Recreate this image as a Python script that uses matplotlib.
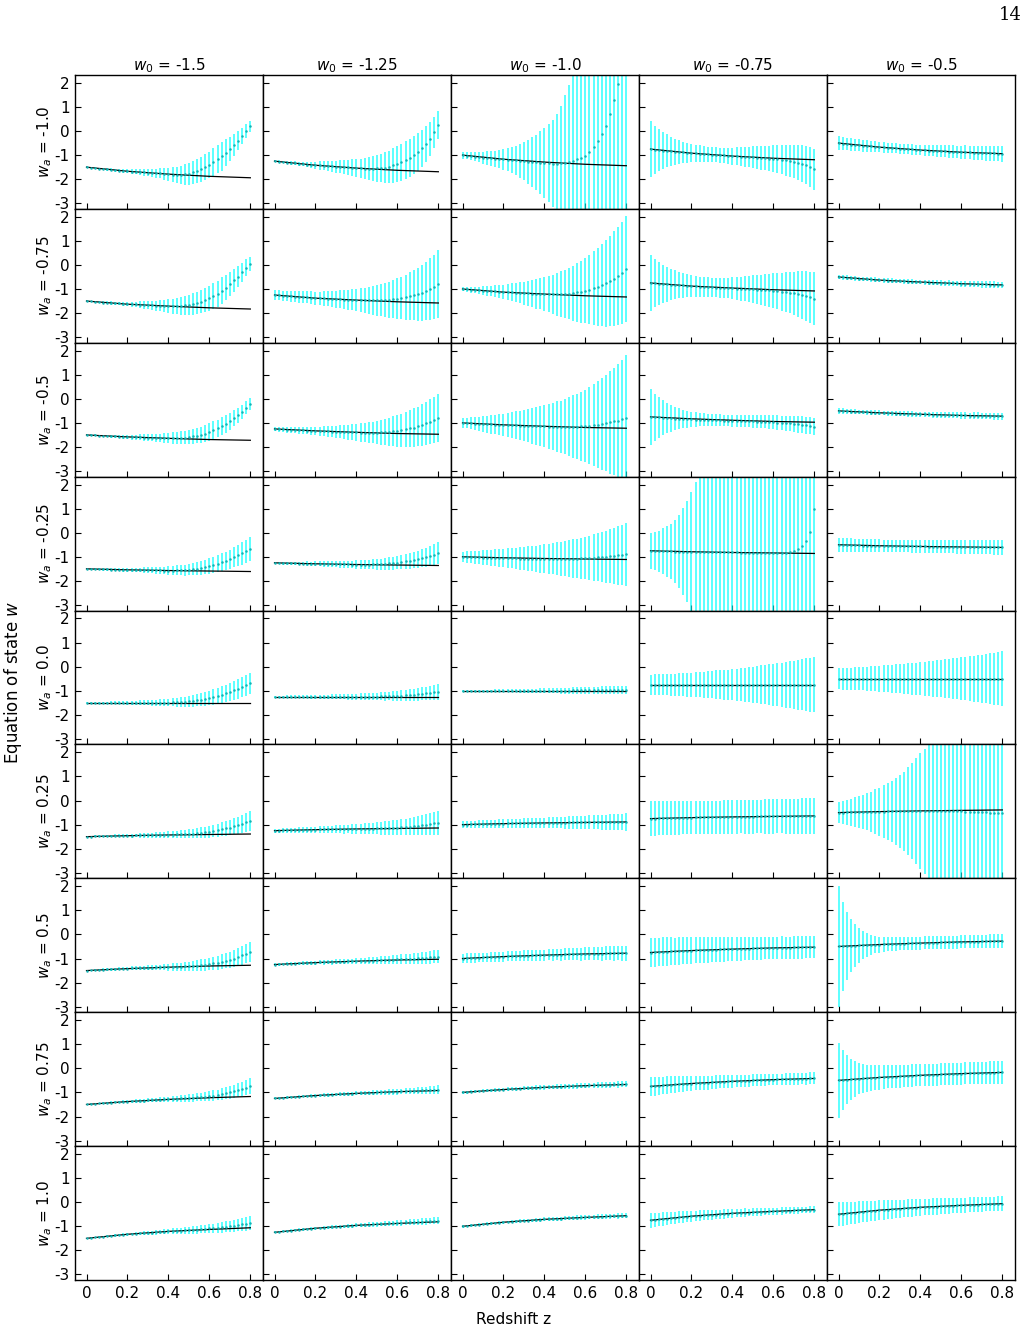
import matplotlib
matplotlib.use("Agg")
import matplotlib.pyplot as plt

plt.rcParams["axes.unicode_minus"] = False

w0_values = [-1.5, -1.25, -1.0, -0.75, -0.5]
wa_values = [-1.0, -0.75, -0.5, -0.25, 0.0, 0.25, 0.5, 0.75, 1.0]

x_ticks = [0, 0.2, 0.4, 0.6, 0.8]
x_tick_labels = ["0", "0.2", "0.4", "0.6", "0.8"]
y_ticks = [-3, -2, -1, 0, 1, 2]

# redshift of the reconstructed points
z = [0.00, 0.02, 0.04, 0.06, 0.08, 0.10, 0.12, 0.14, 0.16, 0.18, 0.20,
     0.22, 0.24, 0.26, 0.28, 0.30, 0.32, 0.34, 0.36, 0.38, 0.40,
     0.42, 0.44, 0.46, 0.48, 0.50, 0.52, 0.54, 0.56, 0.58, 0.60,
     0.62, 0.64, 0.66, 0.68, 0.70, 0.72, 0.74, 0.76, 0.78, 0.80]

# fiducial w(z) (black line)
z_model = [0.0, 0.2, 0.4, 0.6, 0.8]
model_r0 = [[-1.5, -1.67, -1.79, -1.88, -1.94], [-1.25, -1.42, -1.54, -1.63, -1.69],
            [-1.0, -1.17, -1.29, -1.38, -1.44], [-0.75, -0.92, -1.04, -1.13, -1.19],
            [-0.5, -0.67, -0.79, -0.88, -0.94]]
model_r1 = [[-1.5, -1.63, -1.71, -1.78, -1.83], [-1.25, -1.38, -1.46, -1.53, -1.58],
            [-1.0, -1.13, -1.21, -1.28, -1.33], [-0.75, -0.88, -0.96, -1.03, -1.08],
            [-0.5, -0.63, -0.71, -0.78, -0.83]]
model_r2 = [[-1.5, -1.58, -1.64, -1.69, -1.72], [-1.25, -1.33, -1.39, -1.44, -1.47],
            [-1.0, -1.08, -1.14, -1.19, -1.22], [-0.75, -0.83, -0.89, -0.94, -0.97],
            [-0.5, -0.58, -0.64, -0.69, -0.72]]
model_r3 = [[-1.5, -1.54, -1.57, -1.59, -1.61], [-1.25, -1.29, -1.32, -1.34, -1.36],
            [-1.0, -1.04, -1.07, -1.09, -1.11], [-0.75, -0.79, -0.82, -0.84, -0.86],
            [-0.5, -0.54, -0.57, -0.59, -0.61]]
model_r4 = [[-1.5, -1.5, -1.5, -1.5, -1.5], [-1.25, -1.25, -1.25, -1.25, -1.25],
            [-1.0, -1.0, -1.0, -1.0, -1.0], [-0.75, -0.75, -0.75, -0.75, -0.75],
            [-0.5, -0.5, -0.5, -0.5, -0.5]]
model_r5 = [[-1.5, -1.46, -1.43, -1.41, -1.39], [-1.25, -1.21, -1.18, -1.16, -1.14],
            [-1.0, -0.96, -0.93, -0.91, -0.89], [-0.75, -0.71, -0.68, -0.66, -0.64],
            [-0.5, -0.46, -0.43, -0.41, -0.39]]
model_r6 = [[-1.5, -1.42, -1.36, -1.31, -1.28], [-1.25, -1.17, -1.11, -1.06, -1.03],
            [-1.0, -0.92, -0.86, -0.81, -0.78], [-0.75, -0.67, -0.61, -0.56, -0.53],
            [-0.5, -0.42, -0.36, -0.31, -0.28]]
model_r7 = [[-1.5, -1.38, -1.29, -1.22, -1.17], [-1.25, -1.13, -1.04, -0.97, -0.92],
            [-1.0, -0.88, -0.79, -0.72, -0.67], [-0.75, -0.63, -0.54, -0.47, -0.42],
            [-0.5, -0.38, -0.29, -0.22, -0.17]]
model_r8 = [[-1.5, -1.33, -1.21, -1.13, -1.06], [-1.25, -1.08, -0.96, -0.88, -0.81],
            [-1.0, -0.83, -0.71, -0.63, -0.56], [-0.75, -0.58, -0.46, -0.38, -0.31],
            [-0.5, -0.33, -0.21, -0.13, -0.06]]

# reconstructed w(z) (cyan points) and their 1-sigma errors
mean_r0 = [
    [-1.50, -1.52, -1.54, -1.56, -1.57, -1.59, -1.61, -1.62, -1.64, -1.65, -1.67, -1.68, -1.69, -1.71, -1.72, -1.73, -1.74, -1.75, -1.76, -1.78, -1.79,
     -1.81, -1.82, -1.82, -1.80, -1.78, -1.72, -1.66, -1.58, -1.50, -1.40, -1.28, -1.17, -1.04, -0.90, -0.75, -0.58, -0.40, -0.20, 0.00, 0.20],
    [-1.25, -1.27, -1.29, -1.31, -1.32, -1.34, -1.36, -1.37, -1.39, -1.40, -1.42, -1.43, -1.44, -1.46, -1.47, -1.48, -1.49, -1.50, -1.51, -1.53, -1.54,
     -1.55, -1.56, -1.56, -1.56, -1.55, -1.54, -1.52, -1.48, -1.43, -1.37, -1.30, -1.22, -1.12, -1.00, -0.87, -0.72, -0.55, -0.32, -0.05, 0.25],
    [-1.00, -1.02, -1.04, -1.06, -1.08, -1.10, -1.12, -1.13, -1.15, -1.16, -1.18, -1.19, -1.21, -1.22, -1.24, -1.25, -1.27, -1.28, -1.30, -1.31, -1.32,
     -1.34, -1.35, -1.35, -1.34, -1.32, -1.29, -1.24, -1.18, -1.11, -1.02, -0.88, -0.68, -0.42, -0.12, 0.22, 0.72, 1.30, 1.95, 2.70, 3.50],
    [-0.75, -0.77, -0.79, -0.81, -0.82, -0.84, -0.86, -0.87, -0.89, -0.90, -0.92, -0.93, -0.94, -0.96, -0.97, -0.98, -0.99, -1.00, -1.01, -1.03, -1.04,
     -1.05, -1.06, -1.07, -1.08, -1.09, -1.10, -1.11, -1.12, -1.14, -1.15, -1.17, -1.19, -1.21, -1.24, -1.27, -1.31, -1.36, -1.42, -1.50, -1.58],
    [-0.50, -0.52, -0.54, -0.56, -0.57, -0.59, -0.61, -0.62, -0.64, -0.65, -0.67, -0.68, -0.69, -0.71, -0.72, -0.73, -0.74, -0.75, -0.76, -0.78, -0.79,
     -0.80, -0.81, -0.82, -0.82, -0.83, -0.84, -0.85, -0.86, -0.87, -0.88, -0.88, -0.89, -0.90, -0.90, -0.91, -0.92, -0.93, -0.93, -0.94, -0.94],
]
err_r0 = [
    [0.03, 0.03, 0.04, 0.04, 0.05, 0.05, 0.06, 0.06, 0.07, 0.08, 0.09, 0.10, 0.11, 0.12, 0.14, 0.15, 0.17, 0.19, 0.21, 0.24, 0.27,
     0.30, 0.34, 0.38, 0.42, 0.45, 0.48, 0.50, 0.52, 0.54, 0.55, 0.57, 0.59, 0.60, 0.56, 0.50, 0.45, 0.40, 0.34, 0.28, 0.22],
    [0.04, 0.05, 0.05, 0.06, 0.07, 0.08, 0.09, 0.10, 0.12, 0.13, 0.15, 0.17, 0.19, 0.21, 0.23, 0.25, 0.27, 0.30, 0.32, 0.35, 0.38,
     0.41, 0.44, 0.48, 0.51, 0.55, 0.59, 0.63, 0.67, 0.71, 0.75, 0.77, 0.79, 0.80, 0.80, 0.80, 0.78, 0.74, 0.70, 0.65, 0.60],
    [0.14, 0.16, 0.18, 0.20, 0.22, 0.25, 0.28, 0.31, 0.34, 0.38, 0.42, 0.48, 0.54, 0.61, 0.70, 0.80, 0.91, 1.03, 1.15, 1.30, 1.45,
     1.62, 1.80, 2.05, 2.40, 2.80, 3.20, 3.55, 3.90, 4.40, 5.00, 5.40, 5.80, 6.20, 6.60, 7.00, 7.40, 7.80, 8.20, 8.60, 9.00],
    [1.15, 1.00, 0.88, 0.77, 0.68, 0.60, 0.54, 0.49, 0.44, 0.41, 0.38, 0.36, 0.34, 0.33, 0.32, 0.31, 0.31, 0.31, 0.32, 0.33, 0.35,
     0.37, 0.39, 0.41, 0.43, 0.45, 0.47, 0.49, 0.51, 0.53, 0.55, 0.58, 0.61, 0.64, 0.67, 0.70, 0.73, 0.76, 0.79, 0.82, 0.85],
    [0.28, 0.27, 0.26, 0.26, 0.25, 0.24, 0.24, 0.23, 0.23, 0.22, 0.22, 0.22, 0.21, 0.21, 0.21, 0.21, 0.21, 0.21, 0.22, 0.22, 0.22,
     0.23, 0.23, 0.23, 0.24, 0.24, 0.25, 0.25, 0.26, 0.26, 0.27, 0.28, 0.28, 0.29, 0.29, 0.30, 0.31, 0.31, 0.32, 0.32, 0.33],
]

mean_r1 = [
    [-1.50, -1.51, -1.53, -1.54, -1.56, -1.57, -1.58, -1.59, -1.60, -1.61, -1.62, -1.63, -1.64, -1.65, -1.66, -1.67, -1.68, -1.69, -1.70, -1.70, -1.71,
     -1.71, -1.71, -1.70, -1.68, -1.66, -1.62, -1.58, -1.52, -1.46, -1.38, -1.29, -1.19, -1.07, -0.94, -0.80, -0.64, -0.48, -0.30, -0.12, 0.05],
    [-1.25, -1.26, -1.28, -1.29, -1.31, -1.32, -1.33, -1.34, -1.35, -1.36, -1.38, -1.39, -1.39, -1.40, -1.41, -1.42, -1.43, -1.44, -1.45, -1.45, -1.46,
     -1.46, -1.47, -1.47, -1.47, -1.47, -1.46, -1.45, -1.44, -1.42, -1.40, -1.37, -1.34, -1.30, -1.26, -1.21, -1.15, -1.08, -1.00, -0.91, -0.80],
    [-1.00, -1.01, -1.03, -1.04, -1.06, -1.07, -1.08, -1.09, -1.10, -1.11, -1.12, -1.13, -1.14, -1.15, -1.16, -1.17, -1.18, -1.19, -1.20, -1.20, -1.21,
     -1.21, -1.22, -1.22, -1.21, -1.20, -1.19, -1.17, -1.14, -1.11, -1.07, -1.02, -0.97, -0.91, -0.84, -0.76, -0.67, -0.57, -0.46, -0.33, -0.18],
    [-0.75, -0.76, -0.78, -0.79, -0.81, -0.82, -0.83, -0.84, -0.85, -0.87, -0.88, -0.89, -0.90, -0.91, -0.92, -0.93, -0.94, -0.95, -0.95, -0.96, -0.97,
     -0.98, -0.99, -0.99, -1.00, -1.01, -1.02, -1.03, -1.04, -1.05, -1.07, -1.09, -1.11, -1.13, -1.15, -1.18, -1.21, -1.25, -1.29, -1.34, -1.40],
    [-0.50, -0.51, -0.53, -0.54, -0.56, -0.57, -0.58, -0.59, -0.60, -0.61, -0.62, -0.64, -0.65, -0.65, -0.66, -0.67, -0.68, -0.69, -0.70, -0.71, -0.71,
     -0.72, -0.73, -0.74, -0.74, -0.75, -0.76, -0.76, -0.77, -0.77, -0.78, -0.79, -0.79, -0.80, -0.80, -0.81, -0.81, -0.82, -0.82, -0.83, -0.83],
]
err_r1 = [
    [0.03, 0.03, 0.04, 0.04, 0.05, 0.06, 0.07, 0.07, 0.08, 0.09, 0.10, 0.11, 0.12, 0.14, 0.15, 0.17, 0.19, 0.21, 0.23, 0.25, 0.28,
     0.31, 0.33, 0.36, 0.39, 0.42, 0.44, 0.46, 0.48, 0.50, 0.52, 0.53, 0.54, 0.55, 0.53, 0.50, 0.47, 0.43, 0.39, 0.35, 0.30],
    [0.20, 0.20, 0.21, 0.21, 0.22, 0.22, 0.23, 0.24, 0.25, 0.26, 0.27, 0.28, 0.30, 0.31, 0.33, 0.35, 0.37, 0.39, 0.42, 0.44, 0.47,
     0.50, 0.53, 0.56, 0.59, 0.63, 0.67, 0.71, 0.75, 0.79, 0.84, 0.89, 0.94, 0.99, 1.04, 1.10, 1.16, 1.22, 1.28, 1.34, 1.40],
    [0.08, 0.10, 0.12, 0.14, 0.16, 0.18, 0.20, 0.22, 0.25, 0.27, 0.30, 0.33, 0.37, 0.40, 0.44, 0.48, 0.52, 0.56, 0.61, 0.65, 0.70,
     0.76, 0.82, 0.88, 0.94, 1.00, 1.07, 1.14, 1.21, 1.28, 1.35, 1.44, 1.53, 1.62, 1.71, 1.80, 1.88, 1.96, 2.04, 2.12, 2.20],
    [1.15, 1.00, 0.90, 0.80, 0.72, 0.65, 0.60, 0.55, 0.51, 0.48, 0.45, 0.43, 0.42, 0.41, 0.40, 0.40, 0.40, 0.41, 0.42, 0.43, 0.45,
     0.47, 0.50, 0.52, 0.55, 0.58, 0.61, 0.63, 0.66, 0.69, 0.72, 0.75, 0.79, 0.83, 0.86, 0.90, 0.94, 0.98, 1.02, 1.06, 1.10],
    [0.10, 0.10, 0.10, 0.09, 0.09, 0.09, 0.09, 0.09, 0.09, 0.09, 0.09, 0.09, 0.09, 0.09, 0.09, 0.09, 0.10, 0.10, 0.10, 0.10, 0.10,
     0.10, 0.11, 0.11, 0.11, 0.11, 0.11, 0.12, 0.12, 0.12, 0.12, 0.12, 0.13, 0.13, 0.13, 0.13, 0.13, 0.14, 0.14, 0.14, 0.14],
]

mean_r2 = [
    [-1.50, -1.51, -1.52, -1.53, -1.54, -1.55, -1.55, -1.56, -1.57, -1.58, -1.58, -1.59, -1.60, -1.60, -1.61, -1.62, -1.62, -1.63, -1.63, -1.63, -1.63,
     -1.63, -1.63, -1.62, -1.61, -1.59, -1.56, -1.53, -1.49, -1.44, -1.38, -1.31, -1.23, -1.14, -1.04, -0.93, -0.81, -0.68, -0.54, -0.38, -0.20],
    [-1.25, -1.26, -1.27, -1.28, -1.29, -1.30, -1.30, -1.31, -1.32, -1.33, -1.33, -1.34, -1.35, -1.35, -1.36, -1.37, -1.37, -1.38, -1.38, -1.39, -1.39,
     -1.40, -1.40, -1.40, -1.40, -1.40, -1.39, -1.38, -1.37, -1.35, -1.33, -1.30, -1.27, -1.23, -1.19, -1.14, -1.08, -1.02, -0.95, -0.87, -0.78],
    [-1.00, -1.01, -1.02, -1.03, -1.04, -1.05, -1.05, -1.06, -1.07, -1.07, -1.08, -1.09, -1.10, -1.10, -1.11, -1.12, -1.12, -1.13, -1.13, -1.14, -1.14,
     -1.15, -1.15, -1.15, -1.16, -1.16, -1.16, -1.15, -1.15, -1.14, -1.13, -1.11, -1.09, -1.07, -1.04, -1.01, -0.98, -0.94, -0.90, -0.85, -0.80],
    [-0.75, -0.76, -0.77, -0.78, -0.80, -0.81, -0.82, -0.82, -0.83, -0.84, -0.85, -0.86, -0.86, -0.87, -0.87, -0.88, -0.89, -0.89, -0.90, -0.90, -0.91,
     -0.92, -0.92, -0.93, -0.93, -0.94, -0.95, -0.95, -0.96, -0.97, -0.98, -0.99, -1.00, -1.01, -1.02, -1.04, -1.06, -1.08, -1.10, -1.12, -1.15],
    [-0.50, -0.51, -0.52, -0.53, -0.54, -0.55, -0.55, -0.56, -0.57, -0.58, -0.58, -0.59, -0.60, -0.60, -0.61, -0.62, -0.62, -0.63, -0.63, -0.64, -0.64,
     -0.65, -0.65, -0.66, -0.66, -0.67, -0.67, -0.68, -0.68, -0.68, -0.69, -0.69, -0.70, -0.70, -0.70, -0.71, -0.71, -0.71, -0.72, -0.72, -0.72],
]
err_r2 = [
    [0.03, 0.03, 0.04, 0.04, 0.05, 0.05, 0.06, 0.07, 0.07, 0.08, 0.09, 0.10, 0.11, 0.12, 0.13, 0.14, 0.15, 0.17, 0.18, 0.20, 0.22,
     0.24, 0.25, 0.27, 0.28, 0.30, 0.31, 0.32, 0.34, 0.35, 0.36, 0.37, 0.37, 0.37, 0.36, 0.35, 0.33, 0.31, 0.29, 0.27, 0.25],
    [0.10, 0.11, 0.11, 0.12, 0.12, 0.13, 0.14, 0.15, 0.16, 0.17, 0.18, 0.19, 0.21, 0.22, 0.24, 0.25, 0.27, 0.29, 0.31, 0.33, 0.35,
     0.38, 0.40, 0.43, 0.45, 0.48, 0.51, 0.55, 0.58, 0.62, 0.65, 0.68, 0.72, 0.75, 0.79, 0.82, 0.86, 0.89, 0.93, 0.96, 1.00],
    [0.20, 0.22, 0.25, 0.27, 0.30, 0.32, 0.35, 0.38, 0.41, 0.44, 0.47, 0.50, 0.54, 0.58, 0.61, 0.65, 0.69, 0.74, 0.78, 0.83, 0.88,
     0.93, 0.98, 1.04, 1.09, 1.15, 1.22, 1.29, 1.36, 1.43, 1.50, 1.60, 1.70, 1.80, 1.90, 2.00, 2.12, 2.24, 2.36, 2.48, 2.60],
    [1.15, 0.98, 0.85, 0.73, 0.63, 0.55, 0.48, 0.43, 0.38, 0.35, 0.32, 0.30, 0.28, 0.27, 0.26, 0.25, 0.25, 0.24, 0.24, 0.24, 0.24,
     0.24, 0.25, 0.25, 0.25, 0.26, 0.26, 0.27, 0.27, 0.28, 0.29, 0.30, 0.30, 0.31, 0.32, 0.33, 0.34, 0.35, 0.35, 0.36, 0.37],
    [0.12, 0.12, 0.11, 0.11, 0.10, 0.10, 0.10, 0.10, 0.10, 0.10, 0.10, 0.10, 0.10, 0.10, 0.10, 0.10, 0.10, 0.11, 0.11, 0.11, 0.11,
     0.11, 0.11, 0.12, 0.12, 0.12, 0.12, 0.12, 0.13, 0.13, 0.13, 0.13, 0.13, 0.14, 0.14, 0.14, 0.14, 0.14, 0.15, 0.15, 0.15],
]

mean_r3 = [
    [-1.50, -1.50, -1.51, -1.51, -1.52, -1.52, -1.53, -1.53, -1.53, -1.54, -1.54, -1.54, -1.55, -1.55, -1.55, -1.56, -1.56, -1.56, -1.56, -1.57, -1.57,
     -1.57, -1.56, -1.56, -1.55, -1.53, -1.51, -1.49, -1.46, -1.42, -1.38, -1.33, -1.28, -1.22, -1.16, -1.10, -1.02, -0.94, -0.86, -0.77, -0.68],
    [-1.25, -1.25, -1.26, -1.26, -1.27, -1.27, -1.28, -1.28, -1.28, -1.29, -1.29, -1.29, -1.30, -1.30, -1.30, -1.31, -1.31, -1.31, -1.31, -1.32, -1.32,
     -1.32, -1.32, -1.32, -1.31, -1.31, -1.30, -1.29, -1.27, -1.26, -1.24, -1.22, -1.19, -1.17, -1.14, -1.10, -1.06, -1.02, -0.97, -0.91, -0.85],
    [-1.00, -1.01, -1.01, -1.02, -1.02, -1.03, -1.03, -1.04, -1.04, -1.05, -1.05, -1.05, -1.06, -1.06, -1.07, -1.07, -1.07, -1.07, -1.08, -1.08, -1.08,
     -1.08, -1.08, -1.08, -1.08, -1.08, -1.08, -1.07, -1.07, -1.06, -1.05, -1.04, -1.03, -1.02, -1.01, -1.00, -0.98, -0.96, -0.94, -0.92, -0.90],
    [-0.75, -0.76, -0.76, -0.76, -0.77, -0.77, -0.78, -0.78, -0.78, -0.79, -0.79, -0.80, -0.80, -0.80, -0.80, -0.81, -0.81, -0.81, -0.82, -0.82, -0.82,
     -0.82, -0.83, -0.83, -0.83, -0.83, -0.84, -0.84, -0.84, -0.84, -0.84, -0.84, -0.84, -0.83, -0.81, -0.76, -0.68, -0.55, -0.33, 0.05, 1.00],
    [-0.50, -0.50, -0.51, -0.51, -0.52, -0.52, -0.53, -0.53, -0.53, -0.54, -0.54, -0.55, -0.55, -0.55, -0.56, -0.56, -0.56, -0.56, -0.57, -0.57, -0.57,
     -0.57, -0.58, -0.58, -0.58, -0.58, -0.59, -0.59, -0.59, -0.59, -0.59, -0.60, -0.60, -0.60, -0.60, -0.60, -0.60, -0.61, -0.61, -0.61, -0.61],
]
err_r3 = [
    [0.03, 0.03, 0.04, 0.04, 0.05, 0.05, 0.06, 0.06, 0.07, 0.07, 0.08, 0.09, 0.09, 0.10, 0.11, 0.12, 0.13, 0.14, 0.15, 0.16, 0.17,
     0.18, 0.20, 0.21, 0.23, 0.24, 0.26, 0.27, 0.29, 0.30, 0.32, 0.34, 0.35, 0.37, 0.38, 0.40, 0.42, 0.44, 0.46, 0.48, 0.50],
    [0.05, 0.05, 0.06, 0.06, 0.07, 0.07, 0.08, 0.08, 0.09, 0.09, 0.10, 0.11, 0.11, 0.12, 0.12, 0.13, 0.14, 0.15, 0.15, 0.16, 0.17,
     0.18, 0.19, 0.20, 0.21, 0.22, 0.23, 0.24, 0.26, 0.27, 0.28, 0.30, 0.31, 0.33, 0.34, 0.36, 0.38, 0.40, 0.41, 0.43, 0.45],
    [0.22, 0.24, 0.25, 0.27, 0.28, 0.30, 0.32, 0.33, 0.35, 0.36, 0.38, 0.40, 0.42, 0.44, 0.46, 0.48, 0.50, 0.53, 0.55, 0.58, 0.60,
     0.63, 0.65, 0.68, 0.70, 0.73, 0.76, 0.79, 0.82, 0.85, 0.88, 0.92, 0.96, 1.00, 1.04, 1.08, 1.12, 1.17, 1.21, 1.26, 1.30],
    [0.75, 0.80, 0.85, 0.95, 1.05, 1.15, 1.30, 1.50, 1.80, 2.10, 2.50, 2.90, 3.30, 3.80, 4.30, 4.80, 5.20, 5.60, 6.00, 6.40, 6.80,
     7.10, 7.40, 7.70, 8.00, 8.30, 8.60, 8.90, 9.20, 9.50, 9.80, 10.0, 10.2, 10.4, 10.6, 10.8, 11.0, 11.2, 11.4, 11.6, 12.0],
    [0.28, 0.28, 0.28, 0.28, 0.27, 0.27, 0.27, 0.27, 0.27, 0.26, 0.26, 0.26, 0.26, 0.26, 0.26, 0.26, 0.26, 0.26, 0.26, 0.26, 0.26,
     0.26, 0.26, 0.27, 0.27, 0.27, 0.27, 0.27, 0.27, 0.28, 0.28, 0.28, 0.28, 0.28, 0.29, 0.29, 0.29, 0.29, 0.30, 0.30, 0.30],
]

mean_r4 = [
    [-1.50, -1.50, -1.50, -1.50, -1.50, -1.50, -1.50, -1.50, -1.50, -1.50, -1.50, -1.50, -1.50, -1.50, -1.50, -1.50, -1.50, -1.50, -1.50, -1.49, -1.49,
     -1.48, -1.48, -1.47, -1.46, -1.44, -1.42, -1.40, -1.37, -1.34, -1.30, -1.26, -1.21, -1.16, -1.11, -1.05, -0.99, -0.92, -0.85, -0.78, -0.70],
    [-1.25, -1.25, -1.25, -1.25, -1.25, -1.25, -1.25, -1.25, -1.25, -1.25, -1.25, -1.25, -1.25, -1.25, -1.25, -1.25, -1.25, -1.25, -1.25, -1.25, -1.25,
     -1.25, -1.25, -1.25, -1.24, -1.24, -1.23, -1.23, -1.22, -1.22, -1.21, -1.20, -1.19, -1.18, -1.16, -1.15, -1.13, -1.11, -1.09, -1.07, -1.05],
    [-1.00, -1.00, -1.00, -1.00, -1.00, -1.00, -1.00, -1.00, -1.00, -1.00, -1.00, -1.00, -1.00, -1.00, -1.00, -1.00, -1.00, -1.00, -1.00, -1.00, -1.00,
     -1.00, -1.00, -1.00, -1.00, -1.00, -1.00, -0.99, -0.99, -0.99, -0.99, -0.99, -0.98, -0.98, -0.98, -0.98, -0.98, -0.98, -0.97, -0.97, -0.97],
    [-0.75, -0.75, -0.75, -0.75, -0.75, -0.75, -0.75, -0.75, -0.75, -0.75, -0.75, -0.75, -0.75, -0.75, -0.75, -0.75, -0.75, -0.75, -0.75, -0.75, -0.75,
     -0.75, -0.75, -0.75, -0.75, -0.75, -0.75, -0.75, -0.75, -0.75, -0.75, -0.75, -0.75, -0.75, -0.75, -0.75, -0.75, -0.75, -0.75, -0.75, -0.75],
    [-0.50, -0.50, -0.50, -0.50, -0.50, -0.50, -0.50, -0.50, -0.50, -0.50, -0.50, -0.50, -0.50, -0.50, -0.50, -0.50, -0.50, -0.50, -0.50, -0.50, -0.50,
     -0.50, -0.50, -0.50, -0.50, -0.50, -0.50, -0.50, -0.50, -0.50, -0.50, -0.50, -0.50, -0.50, -0.50, -0.50, -0.50, -0.50, -0.50, -0.50, -0.50],
]
err_r4 = [
    [0.03, 0.03, 0.04, 0.04, 0.05, 0.05, 0.06, 0.06, 0.07, 0.07, 0.08, 0.09, 0.09, 0.10, 0.10, 0.11, 0.12, 0.13, 0.14, 0.15, 0.16,
     0.17, 0.18, 0.19, 0.21, 0.22, 0.24, 0.25, 0.27, 0.28, 0.30, 0.32, 0.33, 0.35, 0.36, 0.38, 0.39, 0.41, 0.42, 0.44, 0.45],
    [0.05, 0.05, 0.05, 0.06, 0.06, 0.06, 0.06, 0.07, 0.07, 0.08, 0.08, 0.08, 0.09, 0.09, 0.10, 0.10, 0.11, 0.11, 0.12, 0.12, 0.13,
     0.14, 0.14, 0.15, 0.15, 0.16, 0.17, 0.18, 0.18, 0.19, 0.20, 0.21, 0.22, 0.24, 0.25, 0.26, 0.27, 0.28, 0.30, 0.31, 0.32],
    [0.04, 0.04, 0.04, 0.05, 0.05, 0.05, 0.05, 0.05, 0.06, 0.06, 0.06, 0.06, 0.07, 0.07, 0.08, 0.08, 0.08, 0.09, 0.09, 0.10, 0.10,
     0.10, 0.11, 0.11, 0.12, 0.12, 0.12, 0.13, 0.13, 0.14, 0.14, 0.14, 0.15, 0.15, 0.16, 0.16, 0.16, 0.17, 0.17, 0.18, 0.18],
    [0.42, 0.43, 0.43, 0.44, 0.44, 0.45, 0.46, 0.47, 0.48, 0.49, 0.50, 0.51, 0.53, 0.54, 0.56, 0.57, 0.59, 0.60, 0.62, 0.63, 0.65,
     0.67, 0.69, 0.71, 0.73, 0.75, 0.77, 0.80, 0.82, 0.85, 0.87, 0.90, 0.92, 0.95, 0.97, 1.00, 1.03, 1.06, 1.09, 1.12, 1.15],
    [0.44, 0.45, 0.46, 0.46, 0.47, 0.48, 0.49, 0.50, 0.52, 0.53, 0.54, 0.55, 0.57, 0.58, 0.60, 0.61, 0.63, 0.64, 0.66, 0.67, 0.69,
     0.71, 0.73, 0.74, 0.76, 0.78, 0.80, 0.82, 0.84, 0.86, 0.88, 0.90, 0.93, 0.95, 0.98, 1.00, 1.03, 1.05, 1.08, 1.10, 1.13],
]

mean_r5 = [
    [-1.50, -1.50, -1.49, -1.49, -1.48, -1.48, -1.47, -1.47, -1.47, -1.46, -1.46, -1.46, -1.45, -1.45, -1.45, -1.44, -1.44, -1.44, -1.43, -1.43, -1.42,
     -1.42, -1.41, -1.40, -1.39, -1.38, -1.37, -1.36, -1.34, -1.32, -1.30, -1.27, -1.24, -1.20, -1.16, -1.12, -1.07, -1.02, -0.97, -0.91, -0.85],
    [-1.25, -1.25, -1.24, -1.24, -1.23, -1.23, -1.22, -1.22, -1.22, -1.21, -1.21, -1.20, -1.20, -1.20, -1.20, -1.19, -1.19, -1.19, -1.18, -1.18, -1.18,
     -1.18, -1.17, -1.17, -1.17, -1.16, -1.16, -1.15, -1.14, -1.13, -1.12, -1.11, -1.10, -1.08, -1.06, -1.04, -1.02, -1.00, -0.97, -0.95, -0.92],
    [-1.00, -1.00, -0.99, -0.99, -0.98, -0.98, -0.97, -0.97, -0.97, -0.96, -0.96, -0.95, -0.95, -0.95, -0.95, -0.94, -0.94, -0.94, -0.93, -0.93, -0.93,
     -0.93, -0.92, -0.92, -0.92, -0.92, -0.91, -0.91, -0.91, -0.91, -0.91, -0.90, -0.90, -0.90, -0.90, -0.90, -0.90, -0.89, -0.89, -0.89, -0.89],
    [-0.75, -0.75, -0.74, -0.74, -0.73, -0.73, -0.72, -0.72, -0.72, -0.71, -0.71, -0.70, -0.70, -0.70, -0.70, -0.69, -0.69, -0.69, -0.68, -0.68, -0.68,
     -0.68, -0.67, -0.67, -0.67, -0.67, -0.66, -0.66, -0.66, -0.66, -0.66, -0.65, -0.65, -0.65, -0.65, -0.65, -0.65, -0.64, -0.64, -0.64, -0.64],
    [-0.50, -0.50, -0.49, -0.49, -0.48, -0.48, -0.47, -0.47, -0.47, -0.46, -0.46, -0.46, -0.45, -0.45, -0.45, -0.45, -0.45, -0.44, -0.44, -0.44, -0.44,
     -0.44, -0.44, -0.44, -0.44, -0.44, -0.44, -0.44, -0.45, -0.45, -0.45, -0.46, -0.46, -0.47, -0.47, -0.48, -0.49, -0.50, -0.51, -0.52, -0.53],
]
err_r5 = [
    [0.03, 0.03, 0.04, 0.04, 0.05, 0.05, 0.05, 0.06, 0.06, 0.07, 0.07, 0.08, 0.08, 0.09, 0.09, 0.10, 0.11, 0.12, 0.12, 0.13, 0.14,
     0.15, 0.16, 0.17, 0.18, 0.19, 0.20, 0.21, 0.23, 0.24, 0.25, 0.26, 0.28, 0.29, 0.31, 0.32, 0.34, 0.35, 0.37, 0.38, 0.40],
    [0.08, 0.08, 0.09, 0.09, 0.10, 0.10, 0.11, 0.11, 0.12, 0.12, 0.13, 0.14, 0.14, 0.15, 0.15, 0.16, 0.17, 0.18, 0.18, 0.19, 0.20,
     0.21, 0.22, 0.23, 0.24, 0.25, 0.26, 0.28, 0.29, 0.31, 0.32, 0.34, 0.35, 0.37, 0.38, 0.40, 0.42, 0.44, 0.46, 0.48, 0.50],
    [0.15, 0.15, 0.15, 0.16, 0.16, 0.16, 0.16, 0.17, 0.17, 0.18, 0.18, 0.18, 0.19, 0.19, 0.20, 0.20, 0.20, 0.21, 0.21, 0.22, 0.22,
     0.23, 0.23, 0.24, 0.24, 0.25, 0.26, 0.26, 0.27, 0.27, 0.28, 0.29, 0.30, 0.30, 0.31, 0.32, 0.33, 0.34, 0.34, 0.35, 0.36],
    [0.72, 0.72, 0.71, 0.71, 0.70, 0.70, 0.70, 0.70, 0.69, 0.69, 0.69, 0.69, 0.69, 0.69, 0.69, 0.69, 0.69, 0.69, 0.69, 0.69, 0.69,
     0.69, 0.69, 0.70, 0.70, 0.70, 0.70, 0.70, 0.71, 0.71, 0.71, 0.71, 0.71, 0.72, 0.72, 0.72, 0.72, 0.73, 0.73, 0.74, 0.74],
    [0.44, 0.48, 0.52, 0.56, 0.61, 0.66, 0.71, 0.77, 0.84, 0.92, 1.00, 1.09, 1.18, 1.28, 1.39, 1.50, 1.65, 1.82, 2.00, 2.20, 2.40,
     2.60, 2.80, 3.00, 3.25, 3.50, 3.80, 4.10, 4.40, 4.70, 5.00, 5.30, 5.60, 5.90, 6.20, 6.50, 6.80, 7.10, 7.40, 7.70, 8.00],
]

mean_r6 = [
    [-1.50, -1.49, -1.48, -1.47, -1.46, -1.45, -1.45, -1.44, -1.43, -1.42, -1.42, -1.41, -1.40, -1.40, -1.39, -1.38, -1.38, -1.37, -1.37, -1.36, -1.36,
     -1.35, -1.34, -1.34, -1.33, -1.32, -1.31, -1.29, -1.27, -1.25, -1.23, -1.20, -1.17, -1.13, -1.09, -1.05, -1.00, -0.94, -0.87, -0.80, -0.72],
    [-1.25, -1.24, -1.23, -1.22, -1.22, -1.21, -1.20, -1.19, -1.18, -1.18, -1.17, -1.16, -1.16, -1.15, -1.15, -1.14, -1.13, -1.13, -1.12, -1.12, -1.11,
     -1.10, -1.10, -1.09, -1.09, -1.08, -1.07, -1.06, -1.06, -1.05, -1.04, -1.03, -1.02, -1.01, -1.00, -0.99, -0.98, -0.96, -0.95, -0.93, -0.92],
    [-1.00, -0.99, -0.98, -0.97, -0.96, -0.95, -0.95, -0.94, -0.93, -0.92, -0.92, -0.91, -0.90, -0.90, -0.89, -0.88, -0.88, -0.87, -0.87, -0.86, -0.86,
     -0.85, -0.85, -0.84, -0.84, -0.83, -0.83, -0.82, -0.82, -0.82, -0.81, -0.81, -0.80, -0.80, -0.80, -0.79, -0.79, -0.79, -0.78, -0.78, -0.78],
    [-0.75, -0.74, -0.73, -0.72, -0.71, -0.70, -0.70, -0.69, -0.68, -0.67, -0.67, -0.66, -0.65, -0.65, -0.64, -0.63, -0.63, -0.62, -0.62, -0.61, -0.61,
     -0.60, -0.60, -0.59, -0.59, -0.58, -0.58, -0.57, -0.57, -0.57, -0.56, -0.56, -0.55, -0.55, -0.55, -0.54, -0.54, -0.54, -0.53, -0.53, -0.53],
    [-0.50, -0.49, -0.48, -0.47, -0.46, -0.45, -0.45, -0.44, -0.43, -0.42, -0.42, -0.41, -0.40, -0.40, -0.39, -0.38, -0.38, -0.37, -0.37, -0.36, -0.36,
     -0.35, -0.35, -0.34, -0.34, -0.33, -0.33, -0.32, -0.32, -0.32, -0.31, -0.31, -0.30, -0.30, -0.30, -0.29, -0.29, -0.29, -0.28, -0.28, -0.28],
]
err_r6 = [
    [0.03, 0.03, 0.04, 0.04, 0.05, 0.05, 0.05, 0.06, 0.06, 0.07, 0.07, 0.08, 0.08, 0.09, 0.09, 0.10, 0.11, 0.12, 0.12, 0.13, 0.14,
     0.15, 0.16, 0.17, 0.18, 0.19, 0.20, 0.22, 0.23, 0.25, 0.26, 0.28, 0.29, 0.31, 0.32, 0.34, 0.36, 0.37, 0.39, 0.40, 0.42],
    [0.05, 0.05, 0.05, 0.06, 0.06, 0.06, 0.06, 0.07, 0.07, 0.08, 0.08, 0.08, 0.09, 0.09, 0.10, 0.10, 0.10, 0.11, 0.11, 0.12, 0.12,
     0.13, 0.13, 0.14, 0.14, 0.15, 0.16, 0.17, 0.17, 0.18, 0.19, 0.20, 0.21, 0.21, 0.22, 0.23, 0.24, 0.25, 0.26, 0.27, 0.28],
    [0.20, 0.20, 0.20, 0.20, 0.20, 0.20, 0.20, 0.20, 0.21, 0.21, 0.21, 0.21, 0.21, 0.22, 0.22, 0.22, 0.22, 0.22, 0.23, 0.23, 0.23,
     0.23, 0.24, 0.24, 0.25, 0.25, 0.25, 0.26, 0.26, 0.27, 0.27, 0.27, 0.28, 0.28, 0.29, 0.29, 0.29, 0.30, 0.30, 0.31, 0.31],
    [0.62, 0.61, 0.60, 0.60, 0.59, 0.58, 0.57, 0.57, 0.56, 0.56, 0.55, 0.54, 0.54, 0.53, 0.53, 0.52, 0.52, 0.51, 0.51, 0.50, 0.50,
     0.50, 0.49, 0.49, 0.48, 0.48, 0.48, 0.48, 0.47, 0.47, 0.47, 0.47, 0.47, 0.46, 0.46, 0.46, 0.46, 0.46, 0.46, 0.46, 0.46],
    [2.50, 1.85, 1.40, 1.10, 0.88, 0.72, 0.58, 0.48, 0.41, 0.36, 0.33, 0.31, 0.30, 0.29, 0.28, 0.28, 0.28, 0.27, 0.27, 0.27, 0.27,
     0.27, 0.27, 0.27, 0.27, 0.27, 0.27, 0.27, 0.27, 0.27, 0.27, 0.27, 0.28, 0.28, 0.28, 0.28, 0.28, 0.29, 0.29, 0.29, 0.30],
]

mean_r7 = [
    [-1.50, -1.49, -1.47, -1.46, -1.44, -1.43, -1.42, -1.41, -1.40, -1.39, -1.38, -1.37, -1.36, -1.35, -1.34, -1.33, -1.32, -1.31, -1.30, -1.29, -1.28,
     -1.27, -1.26, -1.25, -1.24, -1.23, -1.22, -1.20, -1.19, -1.17, -1.15, -1.13, -1.10, -1.07, -1.04, -1.00, -0.96, -0.91, -0.86, -0.80, -0.74],
    [-1.25, -1.24, -1.22, -1.21, -1.19, -1.18, -1.17, -1.16, -1.15, -1.14, -1.13, -1.11, -1.10, -1.10, -1.09, -1.08, -1.07, -1.06, -1.05, -1.05, -1.04,
     -1.03, -1.02, -1.02, -1.01, -1.00, -0.99, -0.99, -0.98, -0.97, -0.97, -0.96, -0.95, -0.94, -0.94, -0.93, -0.92, -0.91, -0.90, -0.89, -0.88],
    [-1.00, -0.99, -0.97, -0.96, -0.94, -0.93, -0.92, -0.91, -0.90, -0.89, -0.88, -0.86, -0.85, -0.85, -0.84, -0.83, -0.82, -0.81, -0.80, -0.79, -0.79,
     -0.78, -0.77, -0.76, -0.76, -0.75, -0.74, -0.74, -0.73, -0.72, -0.72, -0.71, -0.70, -0.70, -0.69, -0.69, -0.68, -0.67, -0.67, -0.66, -0.65],
    [-0.75, -0.74, -0.72, -0.71, -0.69, -0.68, -0.67, -0.66, -0.65, -0.64, -0.63, -0.61, -0.60, -0.60, -0.59, -0.58, -0.57, -0.56, -0.55, -0.54, -0.54,
     -0.53, -0.52, -0.52, -0.51, -0.50, -0.49, -0.49, -0.48, -0.47, -0.47, -0.46, -0.46, -0.45, -0.45, -0.44, -0.44, -0.43, -0.43, -0.42, -0.42],
    [-0.50, -0.49, -0.47, -0.46, -0.44, -0.43, -0.42, -0.41, -0.40, -0.39, -0.38, -0.36, -0.35, -0.35, -0.34, -0.33, -0.32, -0.31, -0.30, -0.29, -0.29,
     -0.28, -0.27, -0.26, -0.26, -0.25, -0.24, -0.24, -0.23, -0.22, -0.22, -0.21, -0.21, -0.20, -0.20, -0.19, -0.19, -0.18, -0.18, -0.17, -0.17],
]
err_r7 = [
    [0.03, 0.03, 0.03, 0.04, 0.04, 0.04, 0.05, 0.05, 0.06, 0.06, 0.06, 0.07, 0.07, 0.07, 0.08, 0.08, 0.09, 0.09, 0.10, 0.10, 0.11,
     0.12, 0.12, 0.13, 0.14, 0.15, 0.16, 0.17, 0.18, 0.19, 0.20, 0.21, 0.22, 0.24, 0.25, 0.26, 0.27, 0.29, 0.30, 0.32, 0.33],
    [0.04, 0.04, 0.04, 0.05, 0.05, 0.05, 0.05, 0.05, 0.06, 0.06, 0.06, 0.06, 0.06, 0.07, 0.07, 0.07, 0.07, 0.07, 0.08, 0.08, 0.08,
     0.08, 0.09, 0.09, 0.10, 0.10, 0.10, 0.11, 0.11, 0.12, 0.12, 0.12, 0.13, 0.13, 0.14, 0.14, 0.15, 0.15, 0.16, 0.16, 0.17],
    [0.06, 0.06, 0.06, 0.06, 0.06, 0.06, 0.06, 0.07, 0.07, 0.07, 0.07, 0.07, 0.07, 0.08, 0.08, 0.08, 0.08, 0.08, 0.09, 0.09, 0.09,
     0.09, 0.09, 0.10, 0.10, 0.10, 0.10, 0.10, 0.11, 0.11, 0.11, 0.11, 0.11, 0.12, 0.12, 0.12, 0.12, 0.12, 0.13, 0.13, 0.13],
    [0.40, 0.39, 0.38, 0.37, 0.36, 0.35, 0.34, 0.33, 0.33, 0.32, 0.31, 0.30, 0.30, 0.29, 0.29, 0.28, 0.28, 0.27, 0.27, 0.26, 0.26,
     0.26, 0.26, 0.25, 0.25, 0.25, 0.25, 0.25, 0.24, 0.24, 0.24, 0.24, 0.24, 0.24, 0.24, 0.24, 0.24, 0.24, 0.25, 0.25, 0.25],
    [1.55, 1.25, 1.02, 0.85, 0.73, 0.65, 0.60, 0.56, 0.53, 0.51, 0.50, 0.49, 0.48, 0.48, 0.47, 0.47, 0.47, 0.46, 0.46, 0.46, 0.46,
     0.46, 0.46, 0.46, 0.46, 0.46, 0.46, 0.46, 0.46, 0.46, 0.46, 0.46, 0.46, 0.47, 0.47, 0.47, 0.47, 0.47, 0.48, 0.48, 0.48],
]

mean_r8 = [
    [-1.50, -1.48, -1.46, -1.44, -1.43, -1.41, -1.39, -1.38, -1.36, -1.35, -1.33, -1.32, -1.31, -1.29, -1.28, -1.27, -1.26, -1.25, -1.24, -1.23, -1.21,
     -1.20, -1.19, -1.18, -1.17, -1.16, -1.15, -1.14, -1.12, -1.11, -1.09, -1.08, -1.06, -1.04, -1.02, -1.00, -0.98, -0.95, -0.92, -0.89, -0.86],
    [-1.25, -1.23, -1.21, -1.19, -1.18, -1.16, -1.14, -1.13, -1.11, -1.10, -1.08, -1.07, -1.06, -1.04, -1.03, -1.02, -1.01, -1.00, -0.98, -0.97, -0.96,
     -0.95, -0.94, -0.93, -0.92, -0.91, -0.90, -0.89, -0.88, -0.87, -0.86, -0.85, -0.84, -0.83, -0.82, -0.81, -0.80, -0.79, -0.78, -0.77, -0.76],
    [-1.00, -0.98, -0.96, -0.94, -0.93, -0.91, -0.89, -0.88, -0.86, -0.85, -0.83, -0.82, -0.81, -0.79, -0.78, -0.77, -0.76, -0.75, -0.74, -0.72, -0.71,
     -0.70, -0.69, -0.68, -0.68, -0.67, -0.66, -0.65, -0.64, -0.63, -0.63, -0.62, -0.61, -0.60, -0.60, -0.59, -0.58, -0.57, -0.57, -0.56, -0.56],
    [-0.75, -0.73, -0.71, -0.69, -0.68, -0.66, -0.64, -0.63, -0.61, -0.60, -0.58, -0.57, -0.56, -0.54, -0.53, -0.52, -0.51, -0.50, -0.49, -0.47, -0.46,
     -0.45, -0.44, -0.43, -0.43, -0.42, -0.41, -0.40, -0.39, -0.38, -0.38, -0.37, -0.36, -0.35, -0.35, -0.34, -0.33, -0.32, -0.32, -0.31, -0.31],
    [-0.50, -0.48, -0.46, -0.44, -0.43, -0.41, -0.39, -0.38, -0.36, -0.35, -0.33, -0.32, -0.31, -0.29, -0.28, -0.27, -0.26, -0.25, -0.24, -0.22, -0.21,
     -0.20, -0.19, -0.18, -0.18, -0.17, -0.16, -0.15, -0.14, -0.13, -0.13, -0.12, -0.11, -0.10, -0.10, -0.09, -0.08, -0.07, -0.07, -0.06, -0.06],
]
err_r8 = [
    [0.03, 0.03, 0.03, 0.04, 0.04, 0.04, 0.05, 0.05, 0.05, 0.06, 0.06, 0.06, 0.07, 0.07, 0.08, 0.08, 0.08, 0.09, 0.09, 0.10, 0.10,
     0.11, 0.12, 0.12, 0.13, 0.14, 0.15, 0.16, 0.16, 0.17, 0.18, 0.19, 0.20, 0.22, 0.23, 0.24, 0.25, 0.26, 0.28, 0.29, 0.30],
    [0.04, 0.04, 0.04, 0.05, 0.05, 0.05, 0.05, 0.05, 0.06, 0.06, 0.06, 0.06, 0.06, 0.07, 0.07, 0.07, 0.07, 0.07, 0.08, 0.08, 0.08,
     0.08, 0.09, 0.09, 0.10, 0.10, 0.10, 0.10, 0.11, 0.11, 0.11, 0.12, 0.12, 0.13, 0.13, 0.13, 0.14, 0.14, 0.14, 0.15, 0.15],
    [0.05, 0.05, 0.05, 0.05, 0.05, 0.05, 0.05, 0.06, 0.06, 0.06, 0.06, 0.06, 0.06, 0.07, 0.07, 0.07, 0.07, 0.07, 0.08, 0.08, 0.08,
     0.08, 0.08, 0.08, 0.08, 0.08, 0.08, 0.09, 0.09, 0.09, 0.09, 0.09, 0.09, 0.10, 0.10, 0.10, 0.10, 0.10, 0.11, 0.11, 0.11],
    [0.30, 0.29, 0.28, 0.28, 0.27, 0.26, 0.25, 0.25, 0.24, 0.24, 0.23, 0.22, 0.22, 0.21, 0.21, 0.20, 0.20, 0.19, 0.19, 0.18, 0.18,
     0.18, 0.17, 0.17, 0.16, 0.16, 0.16, 0.16, 0.15, 0.15, 0.15, 0.15, 0.15, 0.14, 0.14, 0.14, 0.14, 0.14, 0.14, 0.14, 0.14],
    [0.50, 0.49, 0.48, 0.47, 0.46, 0.45, 0.44, 0.43, 0.43, 0.42, 0.41, 0.40, 0.40, 0.39, 0.39, 0.38, 0.37, 0.37, 0.36, 0.36, 0.35,
     0.35, 0.34, 0.34, 0.34, 0.33, 0.33, 0.33, 0.32, 0.32, 0.31, 0.31, 0.31, 0.31, 0.30, 0.30, 0.30, 0.30, 0.30, 0.30, 0.30],
]

models = [model_r0, model_r1, model_r2, model_r3, model_r4, model_r5, model_r6, model_r7, model_r8]
means = [mean_r0, mean_r1, mean_r2, mean_r3, mean_r4, mean_r5, mean_r6, mean_r7, mean_r8]
errs = [err_r0, err_r1, err_r2, err_r3, err_r4, err_r5, err_r6, err_r7, err_r8]

fig, axes = plt.subplots(9, 5, sharex=True, sharey=True, figsize=(10.28, 13.31), dpi=100)
fig.subplots_adjust(left=0.073, right=0.9874, top=0.9437, bottom=0.0383, wspace=0, hspace=0)

for i in range(9):
    for j in range(5):
        ax = axes[i, j]
        ax.errorbar(z, means[i][j], yerr=errs[i][j], fmt="none",
                    ecolor=(0.0, 1.0, 1.0, 0.75), elinewidth=1.2, capsize=0, zorder=2)
        ax.plot(z_model, models[i][j], color="k", lw=0.9, zorder=3)
        ax.plot(z, means[i][j], "o", ms=1.8, color="#14b4b4", mew=0, zorder=4)
        ax.tick_params(direction="in", length=4, labelsize=11, pad=4)
        for s in ax.spines.values():
            s.set_linewidth(1.0)
        if i == 0:
            ax.set_title(f"$w_0$ = {w0_values[j]}", fontsize=11, pad=1)
        if j == 0:
            ax.set_ylabel(f"$w_a$ = {wa_values[i]}", fontsize=11, labelpad=0)

ax = axes[0, 0]
ax.set_xlim(-0.056, 0.862)
ax.set_ylim(-3.23, 2.33)
ax.set_xticks(x_ticks)
ax.set_xticklabels(x_tick_labels)
ax.set_yticks(y_ticks)

fig.text(0.5, 0.009, "Redshift z", ha="center", va="center", fontsize=11)
fig.text(0.013, 0.487, "Equation of state $w$", ha="center", va="center",
         rotation=90, fontsize=12)
fig.text(0.994, 0.989, "14", ha="right", va="center", fontsize=13, family="DejaVu Serif")

fig.savefig("out.png", dpi=100)
